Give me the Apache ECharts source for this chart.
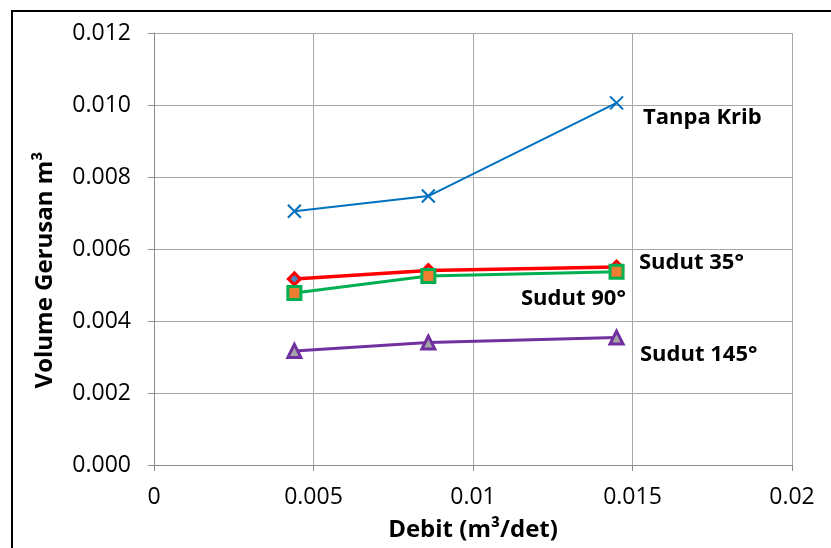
<!DOCTYPE html>
<html>
<head>
<meta charset="utf-8">
<script src="https://cdn.jsdelivr.net/npm/echarts@6/dist/echarts.min.js"></script>
<style>
  html, body { margin: 0; padding: 0; background: #fff; }
  #chart { width: 831px; height: 548px; }
</style>
</head>
<body>
<div id="chart"></div>
<script>
// Discharge (m³/det) for each run
const debit = [0.0044, 0.0086, 0.0145];

// Scour volume (m³) per groyne configuration
const tanpaKrib = [0.00705, 0.00747, 0.01006];
const sudut35 = [0.00517, 0.00540, 0.00550];
const sudut90 = [0.00478, 0.00525, 0.00537];
const sudut145 = [0.00317, 0.00340, 0.00354];

const seriesNames = ['Tanpa Krib', 'Sudut 35°', 'Sudut 90°', 'Sudut 145°'];
const xTicks = [0, 0.005, 0.01, 0.015, 0.02];
const yTicks = [0, 0.002, 0.004, 0.006, 0.008, 0.010, 0.012];
const xTitle = 'Debit (m³/det)';
const yTitle = 'Volume Gerusan m³';

const pairs = ys => debit.map((x, i) => [x, ys[i]]);
const font = '"Open Sans", "Noto Sans", sans-serif';

const chart = echarts.init(document.getElementById('chart'), null, { renderer: 'canvas' });

chart.setOption({
  animation: false,
  backgroundColor: '#fff',
  grid: { left: 154, right: 39, top: 33, bottom: 83, containLabel: false },
  xAxis: {
    type: 'value',
    min: xTicks[0], max: xTicks[xTicks.length - 1], interval: 0.005,
    name: xTitle,
    nameLocation: 'middle', nameGap: 53,
    nameTextStyle: { fontFamily: font, fontWeight: 'bold', fontSize: 24, color: '#000' },
    axisLine: { lineStyle: { color: '#8c8c8c', width: 1 } },
    axisTick: { show: true, length: 6, inside: false, lineStyle: { color: '#8c8c8c' } },
    splitLine: { show: true, lineStyle: { color: '#a6a6a6', width: 1 } },
    axisLabel: {
      fontFamily: font, fontSize: 23, color: '#000', margin: 21,
      formatter: v => String(parseFloat(v.toFixed(3)))
    }
  },
  yAxis: {
    type: 'value',
    min: yTicks[0], max: yTicks[yTicks.length - 1], interval: 0.002,
    axisLine: { show: true, lineStyle: { color: '#8c8c8c', width: 1 } },
    axisTick: { show: true, length: 6, lineStyle: { color: '#8c8c8c' } },
    splitLine: { show: true, lineStyle: { color: '#a6a6a6', width: 1 } },
    axisLabel: {
      fontFamily: font, fontSize: 23, color: '#000', margin: 23,
      formatter: v => v.toFixed(3)
    }
  },
  series: [
    {
      name: seriesNames[0], type: 'line', data: pairs(tanpaKrib),
      lineStyle: { color: '#0070C0', width: 2 },
      symbol: 'path://M0,0L10,10M10,0L0,10', symbolSize: 13,
      itemStyle: { color: 'none', borderColor: '#0070C0', borderWidth: 2 },
      z: 2
    },
    {
      name: seriesNames[1], type: 'line', data: pairs(sudut35),
      lineStyle: { color: '#FF0000', width: 3.5 },
      symbol: 'diamond', symbolSize: 12,
      itemStyle: { color: '#4F81BD', borderColor: '#FF0000', borderWidth: 3 },
      z: 3
    },
    {
      name: seriesNames[2], type: 'line', data: pairs(sudut90),
      lineStyle: { color: '#00B050', width: 3 },
      symbol: 'rect', symbolSize: 13,
      itemStyle: { color: '#ED7D31', borderColor: '#00B050', borderWidth: 3 },
      z: 4
    },
    {
      name: seriesNames[3], type: 'line', data: pairs(sudut145),
      lineStyle: { color: '#7030A0', width: 3 },
      symbol: 'triangle', symbolSize: 13,
      itemStyle: { color: '#A5A5A5', borderColor: '#7030A0', borderWidth: 3 },
      z: 5
    }
  ],
  graphic: [
    // chart area frame
    {
      type: 'rect', silent: true, z: -1,
      shape: { x: 12, y: 11, width: 830, height: 560 },
      style: { fill: 'none', stroke: '#000', lineWidth: 2 }
    },
    // vertical axis title
    {
      type: 'text', x: 45, y: 270, rotation: Math.PI / 2,
      style: {
        text: yTitle, font: 'bold 24px ' + font, fill: '#000',
        align: 'center', verticalAlign: 'middle'
      }
    },
    // series annotations
    {
      type: 'text', left: 643, top: 107,
      style: { text: seriesNames[0], font: 'bold 22px ' + font, fill: '#000' }
    },
    {
      type: 'text', left: 639, top: 252,
      style: { text: seriesNames[1], font: 'bold 22px ' + font, fill: '#000' }
    },
    {
      type: 'text', left: 521, top: 288,
      style: { text: seriesNames[2], font: 'bold 22px ' + font, fill: '#000' }
    },
    {
      type: 'text', left: 640, top: 344,
      style: { text: seriesNames[3], font: 'bold 22px ' + font, fill: '#000' }
    }
  ]
});
</script>
</body>
</html>
